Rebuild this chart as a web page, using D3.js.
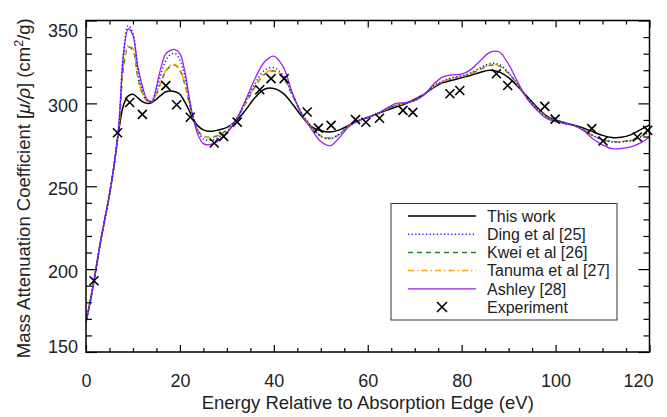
<!DOCTYPE html>
<html>
<head>
<meta charset="utf-8">
<script src="https://cdn.jsdelivr.net/npm/d3@7"></script>
<style>
    body { margin: 0; background: #fff; }
    text { font-family: "Liberation Sans", Arial, Helvetica, sans-serif; fill: #222; }
    .axis path { display: none; }
    .axis line { stroke: #000; stroke-width: 1.2; }
</style>
</head>
<body>
<svg id="vis"></svg>
<script>
// energy grid (eV) shared by all curves
var energy = [0, 1, 2, 3, 4, 5, 6, 7, 8, 9, 10, 11, 12, 13, 14, 15, 16, 17, 18, 19, 20,
    21, 22, 23, 24, 25, 26, 27, 28, 30, 32, 34, 36, 38, 40, 42, 44, 46, 48, 50, 52, 54,
    56, 58, 60, 62, 64, 66, 68, 70, 72, 74, 76, 78, 80, 82, 84, 86, 88, 90, 92, 94, 96,
    98, 100, 102, 104, 106, 108, 110, 112, 114, 116, 118, 120];

var thisWork = [168, 182, 198, 215, 230, 245, 263, 284, 299, 304.5, 305.5, 303.5, 301, 300,
    300.5, 302.5, 305, 307, 307.5, 307, 305.5, 301, 295.5, 289.5, 286, 284, 283.2, 283.2, 283.8,
    285.5, 289.5, 296, 303.5, 308.5, 309, 306, 299.5, 292, 286, 283.5, 282.7, 284, 286.8, 289.5,
    291.5, 293.7, 295.8, 297.8, 299.8, 302.5, 305.5, 309.5, 312.5, 314, 315.5, 317, 318.8, 320,
    319, 315.5, 310, 304, 297.8, 292.5, 290, 288.3, 286.8, 285, 282.8, 280.7, 279.4, 279.5, 281,
    284, 287];

var ding = [168, 182, 198, 215, 230, 245, 263, 288, 331, 347, 342, 321, 308, 302,
    301.5, 308, 318, 326, 329.5, 330, 326, 317, 302, 290, 282.5, 278.5, 277.7, 278, 279,
    283, 290.5, 301, 312, 320, 321.5, 317, 305, 294, 286, 280, 278.7, 281.5, 286.5, 289.5,
    291.5, 293.8, 296.5, 298.8, 300, 302, 305.5, 310.5, 313.5, 315.5, 316.5, 318.5, 321.5, 324,
    323.5, 318.5, 311, 303, 297, 292, 289.7, 288, 286.5, 284, 280.5, 278, 276.7, 276.7, 277.5,
    279.5, 283];

var kwei = [168, 182, 198, 215, 230, 245, 263, 285, 322, 334, 332, 316, 306, 301.5,
    301, 305.5, 313, 319.5, 322.5, 323, 320, 312, 300, 289.5, 283, 280, 279.5, 279.8, 280.5,
    284, 290.5, 300, 310, 317.5, 319.5, 315.5, 304.5, 293.5, 286, 280.5, 279, 281.5, 286.5, 289.5,
    291.5, 293.8, 296.5, 298.8, 300, 302, 305.5, 310, 313, 315, 316, 318, 320.5, 323,
    322.5, 318, 311, 303, 297, 292, 289.7, 288, 286.5, 284, 280.5, 278.2, 277, 277, 277.8,
    279.8, 283.5];

var tanuma = [168, 182, 198, 215, 230, 245, 263, 285.5, 323, 335, 333, 316.5, 306, 301.5,
    301, 305.5, 313.5, 320, 323, 323.5, 320.5, 312.5, 300.5, 289.5, 283, 280, 279.3, 279.5, 280.3,
    284, 290.5, 300.5, 310.5, 318, 320, 316, 305, 293.5, 285.8, 280.3, 278.8, 281.5, 286.5, 289.5,
    291.5, 293.8, 296.5, 298.8, 300, 302, 305.5, 310.2, 313.2, 315.2, 316.2, 318.2, 321, 323.3,
    322.8, 318.2, 311, 303, 297, 292, 289.7, 288, 286.5, 284, 280.5, 278, 276.8, 276.8, 277.6,
    279.6, 283.2];

var ashley = [168, 182, 198, 215, 230, 245, 263, 287, 330, 345, 341, 323, 310.5, 302.5,
    301, 310, 322, 330, 332, 332.5, 330, 320, 303, 289, 280, 275.7, 275, 275.5, 277,
    282, 290, 302, 315, 325, 328.5, 322, 306, 293, 284.5, 277, 274.5, 279.5, 286, 289.5,
    291.5, 293.8, 297, 300, 300.5, 301.7, 305, 311.5, 316, 317.2, 317.6, 320.5, 325.9, 330.8,
    331, 323.5, 312.5, 302.5, 296, 291, 289, 287.7, 286.5, 283.5, 278.5, 275, 272.7, 272.8, 273.8,
    276, 279.7];

// measured points
var expEnergy = [1.7, 6.7, 9.3, 12.0, 17.0, 19.3, 22.2, 27.3, 29.3, 32.2, 37.0, 39.4, 42.2,
    47.1, 49.5, 52.2, 57.4, 59.6, 62.5, 67.5, 69.6, 77.5, 79.6, 87.4, 89.8, 97.7, 99.9, 107.7,
    110.1, 117.4, 119.6];
var expMu = [193, 282.3, 300.5, 293.4, 310.7, 299.2, 291.6, 276.1, 280.1, 288.7, 308.2, 314.9,
    314.9, 294.8, 285.1, 286.7, 290.2, 288.6, 291, 295.8, 294.6, 305.8, 307.8, 317.9, 310.8, 298.2,
    290.5, 284.8, 277.3, 279.7, 283.7];

var seriesNames = ["This work", "Ding et al [25]", "Kwei et al [26]", "Tanuma et al [27]", "Ashley [28]"];
var seriesValues = [thisWork, ding, kwei, tanuma, ashley];
var seriesColors = ["#000000", "#1a1aff", "#228b22", "#ffa500", "#a020f0"];
var seriesDash = [null, "1.2,2.4", "5,4", "6,3,1.5,3", null];
var seriesWidth = [1.5, 1.5, 1.5, 1.5, 1.3];

var xMajor = [0, 20, 40, 60, 80, 100, 120];
var xMinor = [5, 10, 15, 25, 30, 35, 45, 50, 55, 65, 70, 75, 85, 90, 95, 105, 110, 115];
var yMajor = [150, 200, 250, 300, 350];
var yMinor = [160, 170, 180, 190, 210, 220, 230, 240, 260, 270, 280, 290, 310, 320, 330, 340];

var margin = {top: 20.5, right: 17.5, bottom: 65, left: 86},
    width = 667 - margin.left - margin.right,
    height = 417 - margin.top - margin.bottom;

var svg = d3.select("#vis")
    .attr("width", width + margin.left + margin.right)
    .attr("height", height + margin.top + margin.bottom)
    .append("g")
    .attr("transform", "translate(" + margin.left + "," + margin.top + ")");

var xScale = d3.scaleLinear().domain([0, 120]).range([0, width]);
var yScale = d3.scaleLinear().domain([150, 350]).range([height, 0]);

svg.append("defs").append("clipPath").attr("id", "clip")
    .append("rect").attr("width", width).attr("height", height);

// curves; dotted Ding drawn last so it sits on top of Ashley
var line = d3.line()
    .x(function (d) { return xScale(d[0]); })
    .y(function (d) { return yScale(d[1]); })
    .curve(d3.curveCatmullRom);

var order = [0, 2, 3, 4, 1];
order.forEach(function (i) {
    svg.append("path")
        .datum(energy.map(function (e, k) { return [e, seriesValues[i][k]]; }))
        .attr("clip-path", "url(#clip)")
        .attr("fill", "none")
        .attr("stroke", seriesColors[i])
        .attr("stroke-width", seriesWidth[i])
        .attr("stroke-dasharray", seriesDash[i])
        .attr("d", line);
});

function cross(g, s) {
    g.append("path")
        .attr("d", "M" + (-s) + "," + (-s) + "L" + s + "," + s + "M" + (-s) + "," + s + "L" + s + "," + (-s))
        .attr("stroke", "#000")
        .attr("stroke-width", 1.6)
        .attr("fill", "none");
}

svg.selectAll(".dot")
    .data(expEnergy.map(function (e, k) { return [e, expMu[k]]; }))
    .enter().append("g")
    .attr("class", "dot")
    .attr("transform", function (d) {
        return "translate(" + xScale(d[0]) + "," + yScale(d[1]) + ")";
    })
    .each(function () { cross(d3.select(this), 4.5); });

// axes: ticks point inward on all four sides
svg.append("g").attr("class", "axis")
    .attr("transform", "translate(0," + height + ")")
    .call(d3.axisBottom(xScale).tickValues(xMajor).tickSize(-7).tickPadding(22).tickFormat(d3.format("d")))
    .call(function (g) {
        g.selectAll("text").style("font-size", "18px")
            .filter(function (d) { return d === 120; })
            .attr("text-anchor", "end").attr("dx", 3.5);
    });
svg.append("g").attr("class", "axis")
    .attr("transform", "translate(0," + height + ")")
    .call(d3.axisBottom(xScale).tickValues(xMinor).tickSize(-4).tickFormat(""));
svg.append("g").attr("class", "axis")
    .call(d3.axisTop(xScale).tickValues(xMajor).tickSize(-7).tickFormat(""));
svg.append("g").attr("class", "axis")
    .call(d3.axisTop(xScale).tickValues(xMinor).tickSize(-4).tickFormat(""));

svg.append("g").attr("class", "axis")
    .call(d3.axisLeft(yScale).tickValues(yMajor).tickSize(-11).tickPadding(8).tickFormat(d3.format("d")))
    .call(function (g) {
        g.selectAll("text").style("font-size", "18px")
            .attr("dy", function (d) { return d === 350 ? "0.9em" : d === 150 ? "0em" : "0.45em"; });
    });
svg.append("g").attr("class", "axis")
    .call(d3.axisLeft(yScale).tickValues(yMinor).tickSize(-6).tickFormat(""));
svg.append("g").attr("class", "axis")
    .attr("transform", "translate(" + width + ",0)")
    .call(d3.axisRight(yScale).tickValues(yMajor).tickSize(-11).tickFormat(""));
svg.append("g").attr("class", "axis")
    .attr("transform", "translate(" + width + ",0)")
    .call(d3.axisRight(yScale).tickValues(yMinor).tickSize(-6).tickFormat(""));

svg.append("rect")
    .attr("width", width)
    .attr("height", height)
    .attr("fill", "none")
    .attr("stroke", "#000")
    .attr("stroke-width", 1.5);

// axis titles
svg.append("text")
    .attr("x", width / 2)
    .attr("y", height + 56.5)
    .style("text-anchor", "middle")
    .style("font-size", "18.5px")
    .text("Energy Relative to Absorption Edge (eV)");

var yt = svg.append("text")
    .attr("transform", "translate(" + (30 - margin.left) + "," + (height / 2 + 2) + ") rotate(-90)")
    .style("text-anchor", "middle")
    .style("font-size", "18.5px");
yt.append("tspan").text("Mass Attenuation Coefficient [");
yt.append("tspan").style("font-style", "italic").text("\u03bc/\u03c1");
yt.append("tspan").text("] (cm");
yt.append("tspan").attr("dy", -7).style("font-size", "12.5px").text("2");
yt.append("tspan").attr("dy", 7).text("/g)");

// legend
var legendBox = svg.append("g")
    .attr("transform", "translate(" + (391 - margin.left) + "," + (203.5 - margin.top) + ")");
legendBox.append("rect")
    .attr("width", 226)
    .attr("height", 116.5)
    .attr("fill", "#fff")
    .attr("stroke", "#333")
    .attr("stroke-width", 1);

var legend = legendBox.selectAll(".legend")
    .data(seriesNames.concat(["Experiment"]))
    .enter().append("g")
    .attr("class", "legend")
    .attr("transform", function (d, i) {
        return "translate(0," + (12.5 + i * 18.2) + ")";
    });

legend.each(function (d, i) {
    var g = d3.select(this);
    if (i < seriesNames.length) {
        g.append("line")
            .attr("x1", 17).attr("x2", 85)
            .attr("stroke", seriesColors[i])
            .attr("stroke-width", seriesWidth[i])
            .attr("stroke-dasharray", seriesDash[i]);
    } else {
        var m = g.append("g").attr("transform", "translate(51,0)");
        cross(m, 5);
    }
});

legend.append("text")
    .attr("x", 96)
    .attr("dy", ".36em")
    .style("font-size", "16px")
    .text(function (d) { return d; });
</script>
</body>
</html>
